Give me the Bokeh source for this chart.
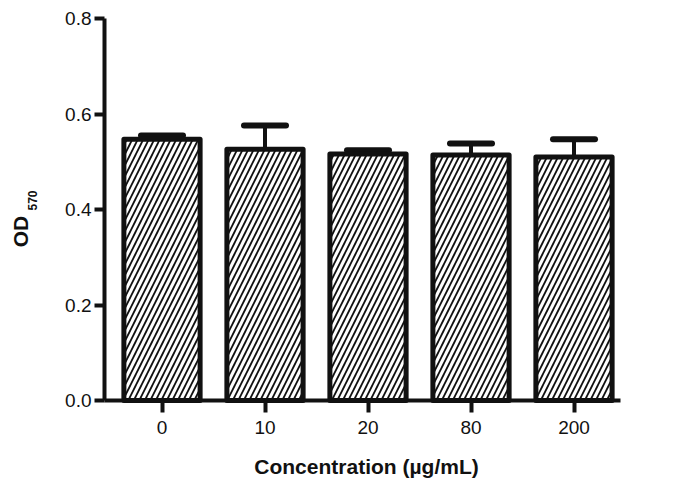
import math
from bokeh.plotting import figure
from bokeh.models import (ColumnDataSource, Range1d, FixedTicker, LinearAxis,
                          PrintfTickFormatter, Whisker, TeeHead, Label)
from bokeh.embed import file_html
from bokeh.resources import INLINE

categories = ["0", "10", "20", "80", "200"]
means = [0.547, 0.526, 0.516, 0.514, 0.510]
errors = [0.008, 0.050, 0.008, 0.024, 0.037]
y_ticks = [0.0, 0.2, 0.4, 0.6, 0.8]

FONT = "Liberation Sans"
INK = "#111111"
W, H = 686, 490
X0, XS = 161.5, 103.0      # pixel of first category, pixels per category
Y0, YS = 400.0, 477.5      # pixel of y=0, pixels per unit

xpos = list(range(len(categories)))
src = ColumnDataSource(dict(
    x=xpos,
    mean=means,
    upper=[m + e for m, e in zip(means, errors)],
))

p = figure(x_range=Range1d(-X0 / XS, (W - X0) / XS),
           y_range=Range1d((Y0 - H) / YS, Y0 / YS),
           frame_width=W, frame_height=H, min_border=0,
           x_axis_type=None, y_axis_type=None,
           output_backend="svg", toolbar_location=None,
           background_fill_color="white", border_fill_color="white")
p.outline_line_color = None
p.grid.visible = False

p.vbar(x="x", top="mean", width=0.74, source=src,
       fill_color="white", line_color=INK, line_width=5,
       line_join="round",
       hatch_pattern="/", hatch_color=INK, hatch_scale=11,
       hatch_weight=1.8)

wh = Whisker(base="x", lower="mean", upper="upper", source=src,
             dimension="height", line_color=INK, line_width=4,
             lower_head=None,
             upper_head=TeeHead(size=42, line_width=6, line_color=INK,
                                line_cap="round"))
p.add_layout(wh)

x_left = (104 - X0) / XS
x_right = (620 - X0) / XS

yax = LinearAxis(fixed_location=x_left, bounds=(0, 0.8),
                 ticker=FixedTicker(ticks=y_ticks),
                 formatter=PrintfTickFormatter(format="%.1f"))
xax = LinearAxis(fixed_location=0, bounds=(x_left, x_right),
                 ticker=FixedTicker(ticks=xpos),
                 major_label_overrides={i: c for i, c in zip(xpos, categories)})
for ax in (xax, yax):
    ax.axis_line_width = 4
    ax.axis_line_color = INK
    ax.major_tick_line_width = 4
    ax.major_tick_line_color = INK
    ax.minor_tick_line_color = None
    ax.major_tick_in = 0
    ax.major_label_text_font = FONT
    ax.major_label_text_font_size = "19px"
    ax.major_label_text_color = INK
yax.major_tick_out = 10
yax.major_label_standoff = 3
xax.major_tick_out = 12
xax.major_label_standoff = 8
p.add_layout(yax, "left")
p.add_layout(xax, "below")

p.add_layout(Label(x=366, y=H - 466, x_units="screen", y_units="screen",
                   text="Concentration (µg/mL)", text_font=FONT,
                   text_font_size="21px", text_font_style="bold",
                   text_align="center", text_baseline="middle",
                   text_color=INK))
p.add_layout(Label(x=20, y=H - 231, x_units="screen", y_units="screen",
                   angle=math.pi / 2,
                   text="OD", text_font=FONT, text_font_size="21px",
                   text_font_style="bold", text_align="center",
                   text_baseline="middle", text_color=INK))
p.add_layout(Label(x=31.5, y=H - 200, x_units="screen", y_units="screen",
                   angle=math.pi / 2,
                   text="570", text_font=FONT, text_font_size="12px",
                   text_font_style="bold", text_align="center",
                   text_baseline="middle", text_color=INK))

open("out.html", "w").write(file_html(p, INLINE))
